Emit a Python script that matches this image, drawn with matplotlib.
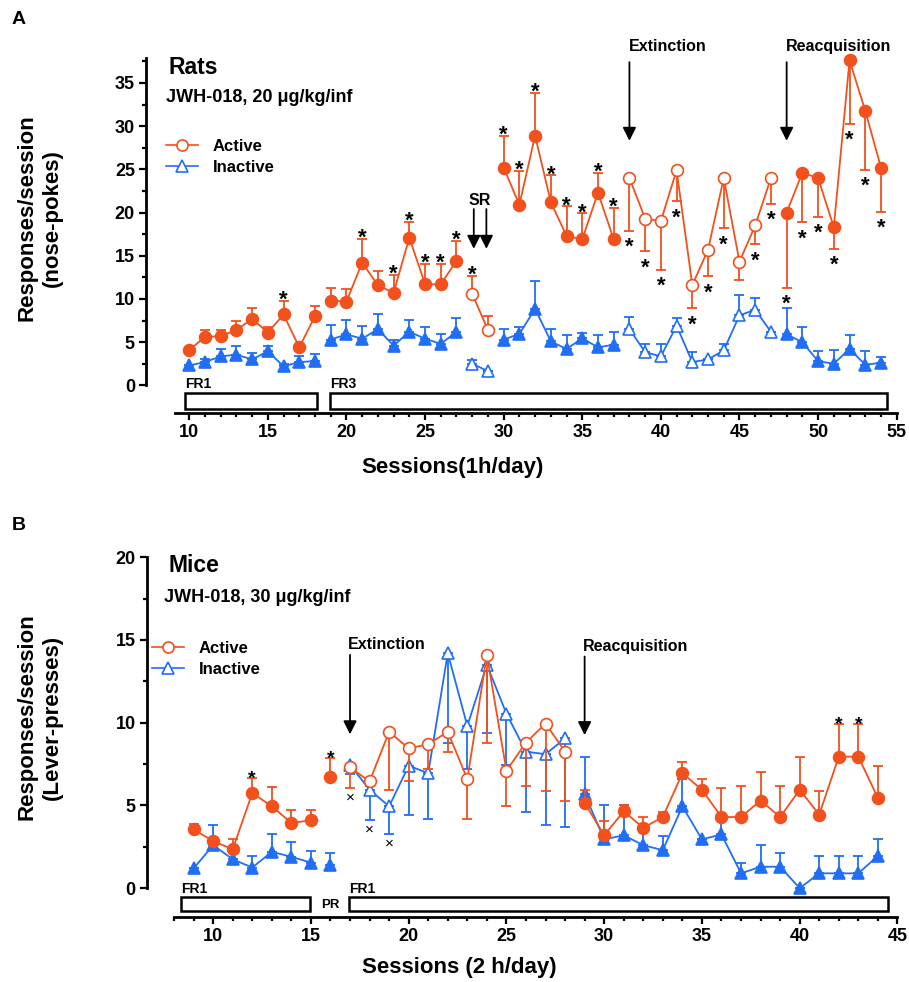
import numpy as np
import matplotlib.pyplot as plt
from matplotlib.lines import Line2D
from matplotlib.patches import Rectangle
from matplotlib.ticker import MultipleLocator

plt.rcParams['font.family'] = ['Liberation Sans', 'DejaVu Sans']
plt.rcParams['font.weight'] = 'bold'

ORANGE = '#F2501C'
BLUE = '#1F6EF5'

# ---------------- panel A : rats, nose-pokes ----------------
rat_sessions = np.arange(10, 55)
rat_active = [4.1, 5.6, 5.7, 6.4, 7.7, 6.1, 8.2, 4.4, 8.0,
              9.8, 9.7, 14.2, 11.6, 10.7, 17.1, 11.7, 11.7, 14.4,
              10.6, 6.4,
              25.2, 20.9, 28.9, 21.2, 17.3, 16.9, 22.3, 16.9,
              24.0, 19.3, 19.0, 24.9, 11.6, 15.7, 24.0, 14.3, 18.5, 24.0,
              20.0, 24.6, 24.0, 18.3, 37.6, 31.8, 25.2]
rat_active_sem = [0.0, 0.85, 0.75, 1.0, 1.3, 0.65, 1.6, 0.0, 1.2,
                  1.5, 1.45, 2.7, 1.65, 2.1, 1.8, 2.35, 2.35, 2.3,
                  2.1, 1.6,
                  3.7, 3.9, 4.9, 3.1, 3.4, 3.0, 2.3, 3.6,
                  6.1, 3.8, 5.6, 3.6, 2.7, 3.05, 5.8, 2.1, 2.15, 3.0,
                  8.7, 5.7, 4.5, 2.5, 7.3, 6.85, 5.1]
rat_inactive = [2.3, 2.7, 3.35, 3.55, 3.0, 3.95, 2.2, 2.7, 2.8,
                5.3, 5.9, 5.4, 6.5, 4.6, 6.2, 5.4, 4.8, 6.2,
                2.5, 1.65,
                5.3, 5.95, 8.85, 5.1, 4.2, 5.45, 4.4, 4.7,
                6.5, 3.85, 3.35, 6.9, 2.7, 3.0, 4.05, 8.1, 8.75, 6.2,
                5.9, 5.0, 2.8, 2.5, 4.2, 2.4, 2.6]
rat_inactive_sem = [0.0, 0.4, 0.9, 0.95, 0.75, 0.65, 0.3, 0.75, 0.8,
                    1.65, 1.7, 1.45, 1.75, 0.6, 1.35, 1.35, 1.1, 1.65,
                    0.4, 0.0,
                    1.25, 0.85, 3.2, 1.4, 1.6, 0.65, 1.45, 1.45,
                    1.45, 0.9, 1.4, 0.95, 1.15, 0.0, 0.75, 2.4, 1.35, 0.0,
                    3.05, 1.75, 1.15, 1.55, 1.65, 1.6, 0.7]
rat_segments = [(10, 18), (19, 27), (28, 29), (30, 37), (38, 47), (48, 54)]
rat_open = [(28, 29), (38, 47)]
rat_active_down = [(38, 54)]
rat_stars = [16, 21, 23, 24, 25, 26, 27, 28, 30, 31, 32, 33, 34, 35, 36, 37,
             38, 39, 40, 41, 42, 43, 44, 46, 47, 48, 49, 50, 51, 52, 53, 54]
rat_sr = [28.1, 28.9]
rat_extinction = 38
rat_reacquisition = 48
rat_boxes = [('FR1', 9.75, 18.13), ('FR3', 18.95, 54.36)]

# ---------------- panel B : mice, lever-presses ----------------
mouse_sessions = np.arange(9, 45)
mouse_active = [3.55, 2.85, 2.35, 5.75, 4.95, 3.95, 4.1,
                6.7,
                7.3, 6.45, 9.45, 8.45, 8.7, 9.45, 6.6, 14.1, 7.1, 8.8, 9.95, 8.25,
                5.15, 3.2, 4.65, 3.65, 4.3, 6.95, 5.95, 4.3, 4.3, 5.3, 4.3,
                5.95, 4.45, 7.95, 7.95, 5.45]
mouse_active_sem = [0.35, 0.2, 0.6, 0.9, 1.15, 0.8, 0.6,
                    1.15,
                    1.25, 0.3, 3.5, 2.0, 1.5, 1.2, 2.4, 5.35, 2.15, 2.6, 4.1, 3.0,
                    0.8, 0.85, 0.35, 0.65, 0.3, 0.65, 0.65, 1.75, 1.85, 1.75, 1.85,
                    2.0, 1.45, 1.95, 1.95, 1.95]
mouse_inactive = [1.2, 2.6, 1.75, 1.25, 2.2, 1.9, 1.55,
                  1.4,
                  7.45, 5.95, 4.95, 7.4, 6.95, 14.2, 9.8, 13.5, 10.55, 8.25, 8.1, 9.05,
                  5.7, 2.95, 3.2, 2.6, 2.3, 4.95, 2.95, 3.25, 0.9, 1.3, 1.3,
                  0.0, 0.9, 0.9, 0.9, 1.95]
mouse_inactive_sem = [0.0, 1.2, 0.6, 0.7, 1.1, 0.9, 0.7,
                      0.75,
                      0.55, 1.8, 1.65, 3.0, 2.75, 5.4, 2.6, 4.1, 3.1, 3.65, 4.25, 5.35,
                      2.25, 2.05, 1.8, 0.9, 0.85, 1.65, 0.0, 0.85, 0.6, 1.3, 0.85,
                      0.0, 1.05, 1.05, 1.05, 1.0]
mouse_segments = [(9, 15), (16, 16), (17, 28), (29, 44)]
mouse_open = [(17, 28)]
mouse_down = [(17, 28)]
mouse_stars = [12, 16, 42, 43]
mouse_crosses = [17, 18, 19]
mouse_extinction = 17
mouse_reacquisition = 29
mouse_boxes = [('FR1', 8.38, 14.95), ('FR1', 16.96, 44.5)]

W, H = 909, 982
fig = plt.figure(figsize=(W / 100, H / 100), dpi=100)


def fpos(x, y):
    return x / W, 1 - y / H


def in_ranges(s, ranges):
    return any(a <= s <= b for a, b in ranges)


def draw_series(ax, x, y, err, color, marker, ms, segments, open_ranges, down_ranges, z):
    x = np.asarray(x)
    y = np.asarray(y, float)
    err = np.asarray(err, float)
    down = np.array([in_ranges(s, down_ranges) for s in x])
    lower = np.where(down, err, 0.0)
    upper = np.where(down, 0.0, err)
    ax.errorbar(x, y, yerr=[lower, upper], fmt='none', ecolor=color, elinewidth=1.3,
                capsize=3.6, capthick=1.3, zorder=z, clip_on=False)
    for a, b in segments:
        m = (x >= a) & (x <= b)
        face = 'white' if in_ranges(a, open_ranges) else color
        ax.plot(x[m], y[m], color=color, lw=1.3, marker=marker, ms=ms, mfc=face,
                mec=color, mew=1.2, zorder=z + 1, clip_on=False)
    return lower, upper


def add_stars(ax, x, y, lower, upper, which, size=16):
    for s in which:
        i = list(x).index(s)
        if lower[i] > 0:
            ax.annotate('*', (s, y[i] - lower[i]), xytext=(0, -16), textcoords='offset points',
                        ha='center', va='baseline', fontsize=size, zorder=6)
        else:
            ax.annotate('*', (s, y[i] + upper[i]), xytext=(0, -3.5), textcoords='offset points',
                        ha='center', va='baseline', fontsize=size, zorder=6)


def style_axes(ax, xlim, ylim, xb, yb, xmaj, ymaj, ymin):
    ax.set_xlim(*xlim)
    ax.set_ylim(*ylim)
    for sp in ['top', 'right']:
        ax.spines[sp].set_visible(False)
    ax.spines['left'].set_bounds(*yb)
    ax.spines['bottom'].set_bounds(*xb)
    ax.spines['left'].set_linewidth(2.0)
    ax.spines['bottom'].set_linewidth(2.0)
    ax.tick_params(which='major', length=5, width=1.6, labelsize=13, pad=3)
    ax.tick_params(which='minor', length=3, width=1.6)
    ax.set_xticks(np.arange(np.ceil(xb[0] / xmaj) * xmaj, xb[1] + 0.01, xmaj))
    ax.set_yticks(np.arange(yb[0], yb[1] + 0.01, ymaj))
    ax.set_xticks(np.arange(np.ceil(xb[0]), xb[1] + 0.01, 1), minor=True)
    ax.set_yticks(np.arange(yb[0], yb[1] + 0.01, ymin), minor=True)
    ax.set_xticklabels([f'{t:g}' for t in ax.get_xticks()], fontweight='bold')
    ax.set_yticklabels([f'{t:g}' for t in ax.get_yticks()], fontweight='bold')


def arrow(ax, x, y0, y1):
    ax.annotate('', xy=(x, y1), xytext=(x, y0),
                arrowprops=dict(arrowstyle='-|>', color='black', lw=1.3,
                                mutation_scale=20, shrinkA=0, shrinkB=0),
                annotation_clip=False)


def boxes(ax, items, y0, y1, label_y, size=10):
    for name, a, b in items:
        ax.add_patch(Rectangle((a, y0), b - a, y1 - y0, fill=False, lw=1.8,
                               ec='black', clip_on=False))
        ax.text(a, label_y, name, ha='left', va='bottom', fontsize=size)


def legend(ax, x, y):
    handles = [Line2D([], [], color=ORANGE, lw=1.2, marker='o', ms=8, mfc='white', mew=1.2),
               Line2D([], [], color=BLUE, lw=1.2, marker='^', ms=8, mfc='white', mew=1.2)]
    ax.legend(handles, ['Active', 'Inactive'], loc='upper left', bbox_to_anchor=fpos(x, y),
              bbox_transform=fig.transFigure, frameon=False, fontsize=12, handlelength=1.9,
              handletextpad=0.9, labelspacing=0.35, borderpad=0, borderaxespad=0)


# ---------------- draw panel A ----------------
axA = fig.add_axes([146 / W, 1 - 413 / H, 755.4 / W, 356 / H])
style_axes(axA, (7.25, 55.3), (-3.2, 38), (9.1, 55), (0, 37.5), 5, 5, 2.5)
axA.spines['left'].set_bounds(0, 37.9)
lo, up = draw_series(axA, rat_sessions, rat_active, rat_active_sem, ORANGE, 'o', 8.5,
                     rat_segments, rat_open, rat_active_down, 4)
draw_series(axA, rat_sessions, rat_inactive, rat_inactive_sem, BLUE, '^', 8.5,
            rat_segments, rat_open, [], 2)
add_stars(axA, rat_sessions, rat_active, lo, up, rat_stars)
for s in rat_sr:
    arrow(axA, s, 20.4, 15.8)
axA.text(np.mean(rat_sr), 21.4, 'SR', ha='center', va='center', fontsize=11.5)
arrow(axA, rat_extinction, 37.4, 28.3)
axA.text(rat_extinction - 0.05, 39.2, 'Extinction', ha='left', va='center', fontsize=11.5)
arrow(axA, rat_reacquisition, 37.4, 28.3)
axA.text(rat_reacquisition - 0.05, 39.2, 'Reacquisition', ha='left', va='center', fontsize=11.5)
boxes(axA, rat_boxes, -0.89, -2.69, -0.6)
legend(axA, 166, 139)

fig.text(*fpos(168, 67), 'Rats', fontsize=16.5, ha='left', va='center')
fig.text(*fpos(166, 98), 'JWH-018, 20 \u03bcg/kg/inf', fontsize=13, ha='left', va='center')
fig.text(*fpos(12, 20), 'A', fontsize=14, ha='left', va='center')
fig.text(*fpos(40, 218), 'Responses/session\n(nose-pokes)', rotation=90, fontsize=16,
         ha='center', va='center', linespacing=1.25)
fig.text(*fpos(453, 467), 'Sessions(1h/day)', fontsize=16, ha='center', va='center')

# ---------------- draw panel B ----------------
axB = fig.add_axes([146.7 / W, 1 - 916.7 / H, 756.6 / W, 362.8 / H])
style_axes(axB, (6.6, 45.3), (-1.72, 20.2), (8.0, 45), (0, 20), 5, 5, 2.5)
lo_b, up_b = draw_series(axB, mouse_sessions, mouse_active, mouse_active_sem, ORANGE, 'o', 8.5,
                         mouse_segments, mouse_open, mouse_down, 4)
lo_i, up_i = draw_series(axB, mouse_sessions, mouse_inactive, mouse_inactive_sem, BLUE, '^', 8.5,
                         mouse_segments, mouse_open, mouse_down, 2)
add_stars(axB, mouse_sessions, mouse_active, lo_b, up_b, mouse_stars, size=14)
for s in mouse_crosses:
    i = list(mouse_sessions).index(s)
    bottom = min(mouse_active[i] - lo_b[i], mouse_inactive[i] - lo_i[i])
    axB.annotate('\u00d7', (s, bottom), xytext=(0, -7), textcoords='offset points',
                 ha='center', va='center', fontsize=11, fontweight='normal')
arrow(axB, mouse_extinction, 14.1, 9.3)
axB.text(mouse_extinction - 0.1, 14.7, 'Extinction', ha='left', va='center', fontsize=11.5)
arrow(axB, mouse_reacquisition, 14.0, 9.25)
axB.text(mouse_reacquisition - 0.1, 14.6, 'Reacquisition', ha='left', va='center', fontsize=11.5)
boxes(axB, mouse_boxes, -0.51, -1.37, -0.45)
axB.text(16.0, -1.0, 'PR', ha='center', va='center', fontsize=9.5)
legend(axB, 152, 641)

fig.text(*fpos(168, 566), 'Mice', fontsize=16.5, ha='left', va='center')
fig.text(*fpos(164, 598), 'JWH-018, 30 \u03bcg/kg/inf', fontsize=13, ha='left', va='center')
fig.text(*fpos(12, 525), 'B', fontsize=14, ha='left', va='center')
fig.text(*fpos(40, 717), 'Responses/session\n(Lever-presses)', rotation=90, fontsize=16,
         ha='center', va='center', linespacing=1.25)
fig.text(*fpos(459, 968), 'Sessions (2 h/day)', fontsize=16, ha='center', va='center')

fig.savefig('out.png', dpi=100)
